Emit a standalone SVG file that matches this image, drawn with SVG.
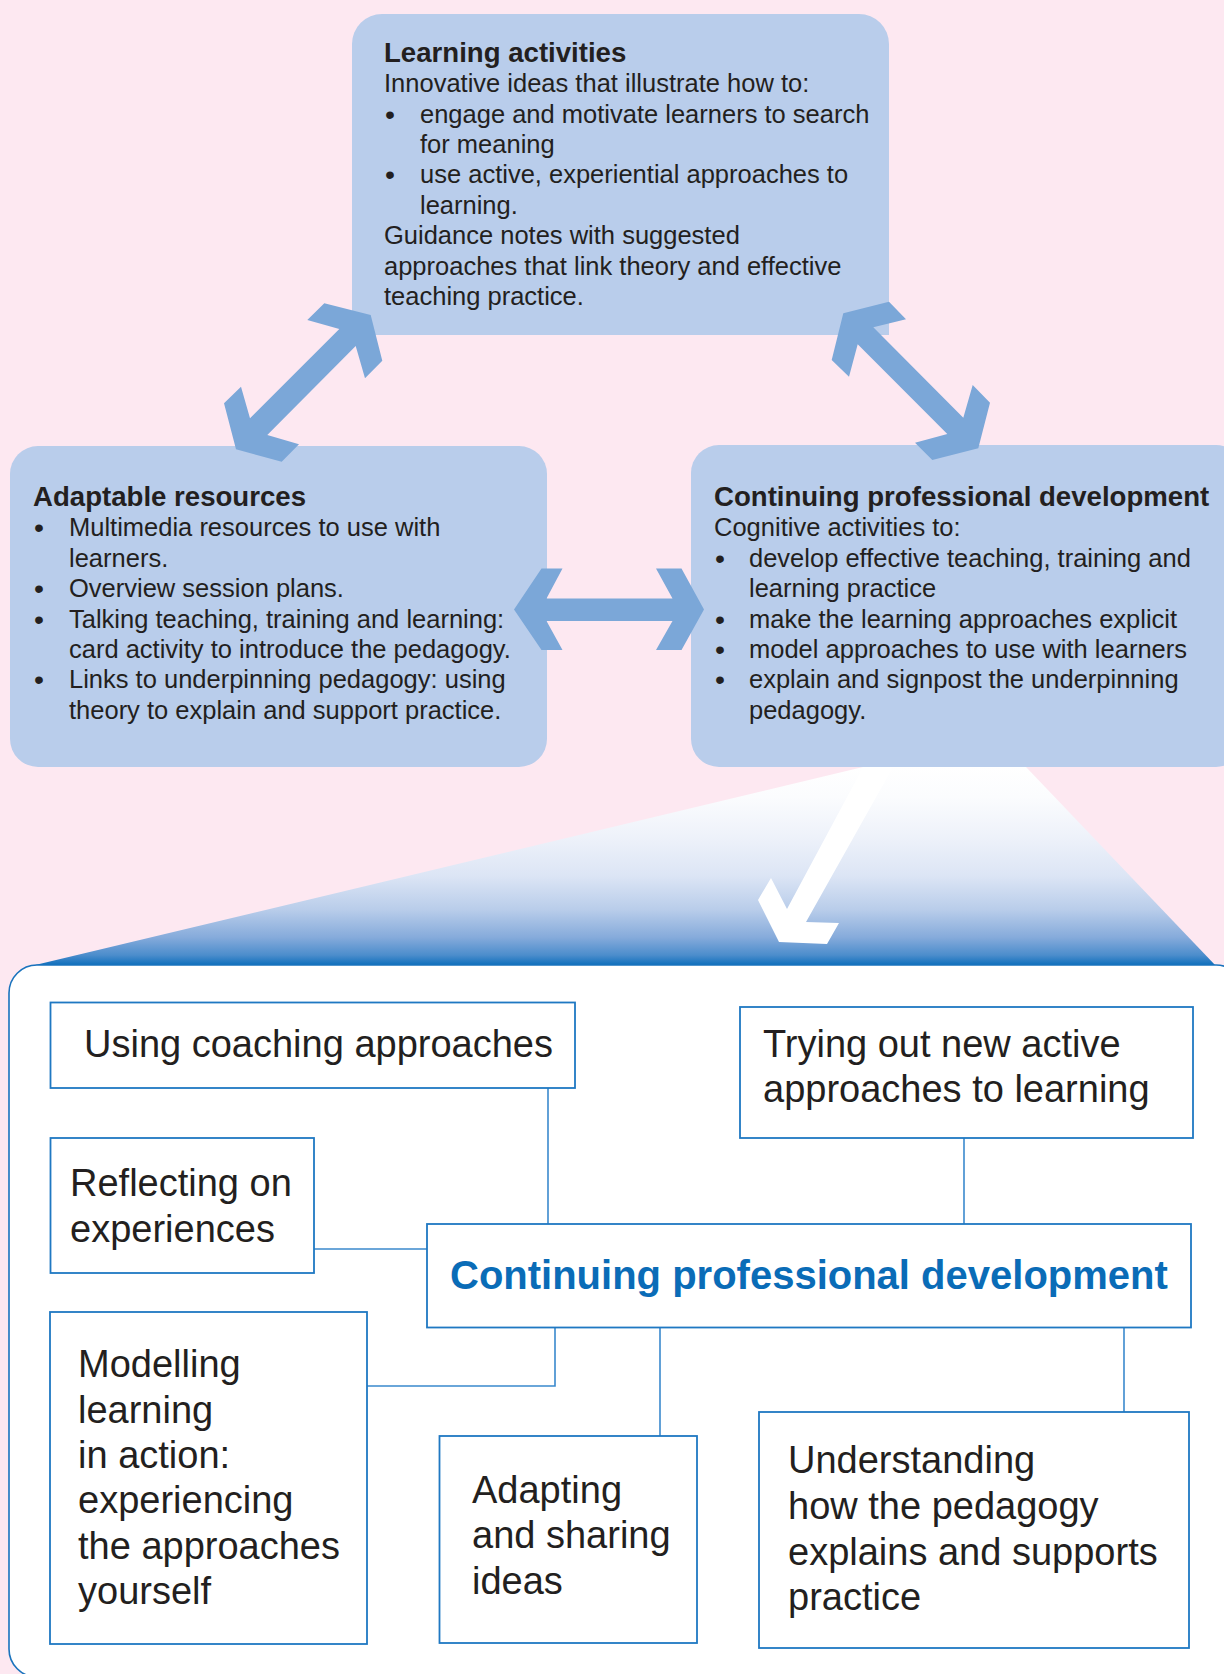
<svg xmlns="http://www.w3.org/2000/svg" width="1224" height="1674" viewBox="0 0 1224 1674">
  <defs>
    <linearGradient id="funnelFill" gradientUnits="userSpaceOnUse" x1="0" y1="767" x2="0" y2="965">
      <stop offset="0" stop-color="#ffffff"/>
      <stop offset="0.15" stop-color="#fbfcfe"/>
      <stop offset="0.35" stop-color="#eef2fa"/>
      <stop offset="0.55" stop-color="#dce5f5"/>
      <stop offset="0.72" stop-color="#b9cdea"/>
      <stop offset="0.86" stop-color="#86abdb"/>
      <stop offset="0.95" stop-color="#4c8dcc"/>
      <stop offset="1" stop-color="#0f6fbc"/>
    </linearGradient>
    <style>
      text { font-family: "Liberation Sans", Arial, Helvetica, sans-serif; fill: #231f20; }
      .panel { fill: #b9cdeb; }
      .body { font-size: 25.5px; }
      .dot { font-size: 28.5px; }
      .head { font-size: 27.6px; font-weight: bold; }
      .link { fill: #7ba7d8; }
      .card { fill: #ffffff; stroke: #1f78c2; stroke-width: 1.8; }
      .label { font-size: 38px; }
      .title { font-size: 40px; font-weight: bold; fill: #0a6cb7; }
      .wire { fill: none; stroke: #3a89cd; stroke-width: 1.6; }
    </style>
  </defs>

  <!-- page background -->
  <rect x="0" y="0" width="1224" height="1674" fill="#fde8f1"/>

  <!-- zoom funnel from the CPD panel down to the detail panel -->
  <polygon points="863,767 1026,767 1216,966 31,966" fill="url(#funnelFill)"/>
  <polygon points="867,760 897,760 806,922 839,923 827,944 779,942 758,900 771,878 787,909" fill="#ffffff"/>

  <!-- upper panels -->
  <g id="learning-activities">
    <path class="panel" d="M352,335 V44 A30,30 0 0 1 382,14 H859 A30,30 0 0 1 889,44 V335 Z"/>
    <text class="head" x="384" y="61.7">Learning activities</text>
    <text class="body" x="384" y="92.1">Innovative ideas that illustrate how to:</text>
    <text class="dot" x="385" y="123.5">•</text>
    <text class="body" x="420" y="122.5">engage and motivate learners to search</text>
    <text class="body" x="420" y="152.9">for meaning</text>
    <text class="dot" x="385" y="184.3">•</text>
    <text class="body" x="420" y="183.3">use active, experiential approaches to</text>
    <text class="body" x="420" y="213.7">learning.</text>
    <text class="body" x="384" y="244.1">Guidance notes with suggested</text>
    <text class="body" x="384" y="274.5">approaches that link theory and effective</text>
    <text class="body" x="384" y="304.9">teaching practice.</text>
  </g>

  <g id="adaptable-resources">
    <rect class="panel" x="10" y="446" width="537" height="321" rx="28" ry="28"/>
    <text class="head" x="33" y="506">Adaptable resources</text>
    <text class="dot" x="34" y="537.4">•</text>
    <text class="body" x="69" y="536.4">Multimedia resources to use with</text>
    <text class="body" x="69" y="566.8">learners.</text>
    <text class="dot" x="34" y="598.2">•</text>
    <text class="body" x="69" y="597.2">Overview session plans.</text>
    <text class="dot" x="34" y="628.6">•</text>
    <text class="body" x="69" y="627.6">Talking teaching, training and learning:</text>
    <text class="body" x="69" y="658">card activity to introduce the pedagogy.</text>
    <text class="dot" x="34" y="689.4">•</text>
    <text class="body" x="69" y="688.4">Links to underpinning pedagogy: using</text>
    <text class="body" x="69" y="718.8">theory to explain and support practice.</text>
  </g>

  <g id="cpd-summary">
    <rect class="panel" x="691" y="445" width="553" height="322" rx="28" ry="28"/>
    <text class="head" x="714" y="506">Continuing professional development</text>
    <text class="body" x="714" y="536.4">Cognitive activities to:</text>
    <text class="dot" x="715" y="567.8">•</text>
    <text class="body" x="749" y="566.8">develop effective teaching, training and</text>
    <text class="body" x="749" y="597.2">learning practice</text>
    <text class="dot" x="715" y="628.6">•</text>
    <text class="body" x="749" y="627.6">make the learning approaches explicit</text>
    <text class="dot" x="715" y="659">•</text>
    <text class="body" x="749" y="658">model approaches to use with learners</text>
    <text class="dot" x="715" y="689.4">•</text>
    <text class="body" x="749" y="688.4">explain and signpost the underpinning</text>
    <text class="body" x="749" y="718.8">pedagogy.</text>
  </g>

  <!-- two-way block arrows between the upper panels -->
  <g id="panel-links">
    <polygon class="link" points="370.7,315 324.3,303.3 307.3,320 339.3,329 250,418.3 241,386.7 224,403.3 236,449.3 281.7,461.7 299,444.3 267.3,435 355.7,346 365,378.3 382.3,360.7"/>
    <polygon class="link" points="843.3,313.3 889,301.7 906,319.3 873.3,327.3 963.3,417.7 972.7,385 990,402.7 978.3,448.3 932.3,460 915,442.7 947.3,434 857.7,344.3 849,376.7 831.7,360"/>
    <polygon class="link" points="514,609.5 541.5,568.5 562.5,568.5 546.5,598.5 672.5,598.5 656,568.5 681.5,568.5 704,609.5 681.5,650 656,650 672.5,621 546.5,621 562.5,650 541.5,650"/>
  </g>

  <!-- detail panel -->
  <rect x="9" y="965" width="1235" height="712" rx="28" ry="28" fill="#ffffff" stroke="#1a73bd" stroke-width="1.6"/>

  <g id="cpd-connectors">
    <path class="wire" d="M548,1088 V1224"/>
    <path class="wire" d="M964,1138 V1224"/>
    <path class="wire" d="M314,1249 H427"/>
    <path class="wire" d="M555,1327.5 V1386 H367"/>
    <path class="wire" d="M660,1327.5 V1436"/>
    <path class="wire" d="M1124,1327.5 V1412"/>
  </g>

  <g id="coaching">
    <rect class="card" x="50.5" y="1002.5" width="524.5" height="85.5"/>
    <text class="label" x="84" y="1057">Using coaching approaches</text>
  </g>

  <g id="reflecting">
    <rect class="card" x="50.5" y="1138" width="263.5" height="135"/>
    <text class="label" x="70" y="1196">Reflecting on</text>
    <text class="label" x="70" y="1242">experiences</text>
  </g>

  <g id="trying-out">
    <rect class="card" x="740" y="1007" width="453" height="131"/>
    <text class="label" x="763" y="1057">Trying out new active</text>
    <text class="label" x="763" y="1102">approaches to learning</text>
  </g>

  <g id="cpd-centre">
    <rect class="card" x="427" y="1224" width="764" height="103.5"/>
    <text class="title" x="450" y="1289">Continuing professional development</text>
  </g>

  <g id="modelling">
    <rect class="card" x="50" y="1312" width="317" height="332"/>
    <text class="label" x="78" y="1377">Modelling</text>
    <text class="label" x="78" y="1423">learning</text>
    <text class="label" x="78" y="1468">in action:</text>
    <text class="label" x="78" y="1513">experiencing</text>
    <text class="label" x="78" y="1559">the approaches</text>
    <text class="label" x="78" y="1604">yourself</text>
  </g>

  <g id="adapting">
    <rect class="card" x="439.5" y="1436" width="257.5" height="207"/>
    <text class="label" x="472" y="1503">Adapting</text>
    <text class="label" x="472" y="1548">and sharing</text>
    <text class="label" x="472" y="1594">ideas</text>
  </g>

  <g id="understanding">
    <rect class="card" x="759" y="1412" width="430" height="236"/>
    <text class="label" x="788" y="1473">Understanding</text>
    <text class="label" x="788" y="1519">how the pedagogy</text>
    <text class="label" x="788" y="1565">explains and supports</text>
    <text class="label" x="788" y="1610">practice</text>
  </g>
</svg>
